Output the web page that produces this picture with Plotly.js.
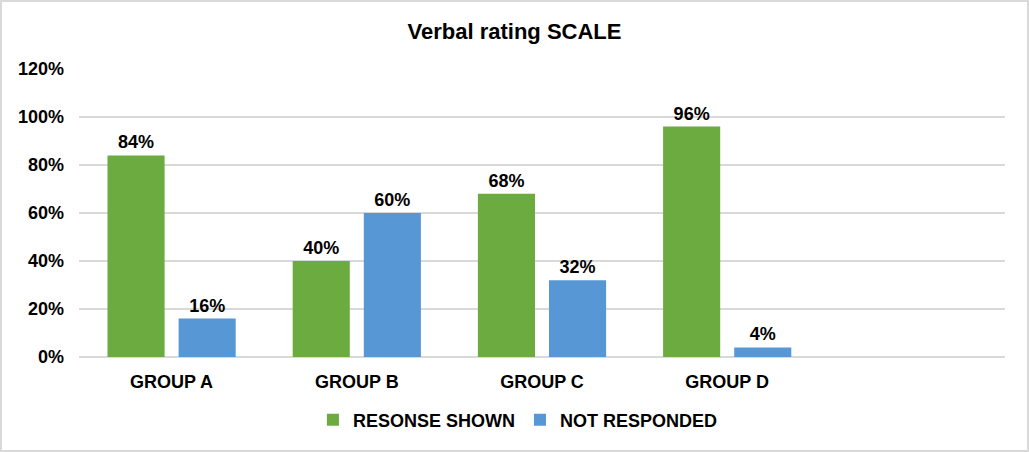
<!DOCTYPE html>
<html>
<head>
<meta charset="utf-8">
<script src="https://cdn.plot.ly/plotly-3.0.1.min.js"></script>
<style>
html,body{margin:0;padding:0;background:#fff;}
#chart{width:1025px;height:448px;border:2px solid #d9d9d9;}
</style>
</head>
<body>
<div id="chart"></div>
<script>
const categories = ["GROUP A", "GROUP B", "GROUP C", "GROUP D"];
const responseShown = [0.84, 0.40, 0.68, 0.96];
const notResponded = [0.16, 0.60, 0.32, 0.04];
const seriesNames = ["RESONSE SHOWN", "NOT RESPONDED"];
const yTicks = [0, 0.2, 0.4, 0.6, 0.8, 1.0, 1.2];

const FONT = "Liberation Sans, Arial, sans-serif";
const labelFont = {family: FONT, size: 18, color: "#000", weight: "bold"};

const traces = [
  {
    type: "bar", name: seriesNames[0], x: categories, y: responseShown,
    marker: {color: "#6cab40"},
    texttemplate: "%{y:.0%}", textposition: "outside", cliponaxis: false,
    textfont: labelFont, hoverinfo: "skip"
  },
  {
    type: "bar", name: seriesNames[1], x: categories, y: notResponded,
    marker: {color: "#5797d6"},
    texttemplate: "%{y:.0%}", textposition: "outside", cliponaxis: false,
    textfont: labelFont, hoverinfo: "skip"
  }
];

const layout = {
  width: 1025, height: 448,
  margin: {l: 77, r: 22, t: 67, b: 92},
  paper_bgcolor: "#fff", plot_bgcolor: "#fff",
  font: {family: FONT, color: "#000"},
  title: {text: "Verbal rating SCALE", font: {family: FONT, size: 22, color: "#000", weight: "bold"}, x: 0.5, xanchor: "center", y: 0.935, yanchor: "middle"},
  barmode: "group", bargap: 0.232, bargroupgap: 0.197,
  xaxis: {
    type: "category", categoryarray: categories, range: [-0.5, 4.5],
    showgrid: false, showline: false, zeroline: false, ticks: "",
    tickfont: labelFont, ticklabelstandoff: 12, fixedrange: true
  },
  yaxis: {
    range: [0, 1.2], tickvals: yTicks, tickformat: ".0%",
    showgrid: true, gridcolor: "#d9d9d9", gridwidth: 1.5,
    zeroline: true, zerolinecolor: "#d9d9d9", zerolinewidth: 1.5,
    showline: false, ticks: "", ticklen: 0, tickfont: labelFont,
    ticklabelstandoff: 14, fixedrange: true
  },
  showlegend: true,
  legend: {
    orientation: "h", x: 0.474, xanchor: "center", y: -0.215, yanchor: "middle",
    font: {family: FONT, size: 18, color: "#000", weight: "bold"},
    traceorder: "normal", itemwidth: 30
  }
};

Plotly.newPlot("chart", traces, layout, {displayModeBar: false, staticPlot: true});
</script>
</body>
</html>
